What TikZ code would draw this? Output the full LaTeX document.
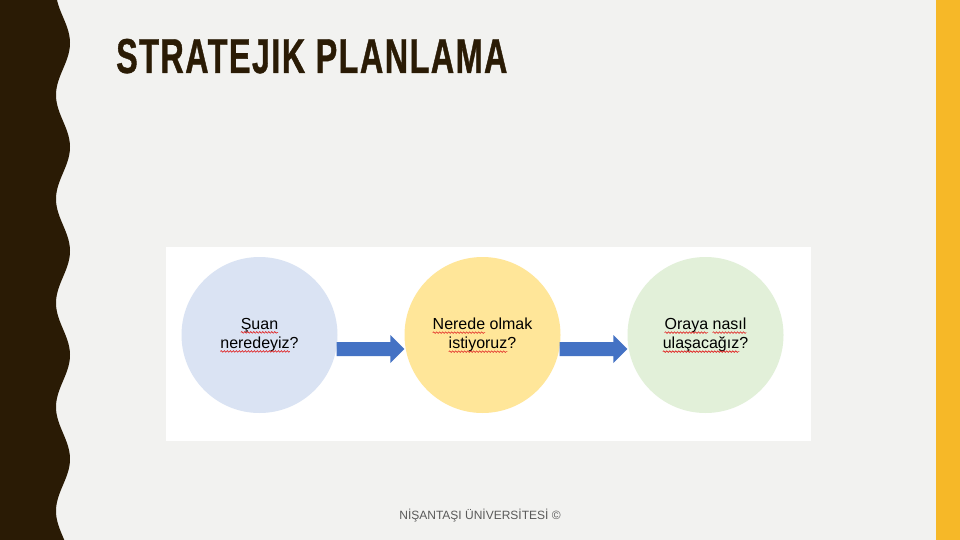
\documentclass[tikz,border=0pt]{standalone}
\usepackage{fontspec}
\setmainfont{Liberation Sans}
\newfontfamily\titlefont[FakeStretch=0.66, FakeBold=0.8, LetterSpace=3]{Liberation Sans}
\usetikzlibrary{calc, decorations.pathmorphing}
\definecolor{cpaper}{HTML}{F2F2F0}
\definecolor{cbrown}{HTML}{2A1B05}
\definecolor{cgold}{HTML}{F6B828}
\definecolor{cblue}{HTML}{DAE3F3}
\definecolor{cyellow}{HTML}{FFE699}
\definecolor{cgreen}{HTML}{E2F0D9}
\definecolor{carrow}{HTML}{4472C4}
\definecolor{cgrey}{HTML}{595959}
\definecolor{cspell}{HTML}{E02020}
\newcommand{\spell}[1]{\tikz[baseline=(w.base)]{\node[word] (w) {#1};
  \draw[squiggle, overlay] ([yshift=-3pt]w.base west) -- ([yshift=-3pt]w.base east);}}
\newcommand{\flowarrow}[2]{%
  \fill[flow] ($(#1.east)+(-1,7)$) -- ($(#2.west)+(-14,7)$) -- ($(#2.west)+(-14,0)$)
    -- ($(#2.west)+(0,14)$) -- ($(#2.west)+(-14,28)$) -- ($(#2.west)+(-14,21)$)
    -- ($(#1.east)+(-1,21)$) -- cycle;}
\tikzset{
  every picture/.style={x=1pt, y=-1pt},
  stage/.style={circle, fill=#1, minimum size=156pt, inner sep=0pt, align=center, font=\fontsize{16}{19}\selectfont},
  word/.style={rectangle, draw=none, fill=none, inner sep=0pt, outer sep=0pt, minimum size=0pt, align=left},
  flow/.style={fill=carrow},
  squiggle/.style={draw=cspell, line width=0.6pt, decorate, decoration={snake, amplitude=0.8pt, segment length=3pt}},
  title/.style={font=\titlefont\bfseries\fontsize{49}{49}\selectfont, text=cbrown, anchor=base west, inner sep=0pt},
  note/.style={font=\fontsize{12}{14}\selectfont, text=cgrey},
}
\begin{document}
\begin{tikzpicture}
  \useasboundingbox (0,0) rectangle (960,540);
  \fill[cpaper] (0,0) rectangle (960,540);
  % wavy band on the left, gold bar on the right
  \fill[cbrown] (0,0) -- plot[domain=0:540, samples=240] ({63+7*cos((\x-43)/104*360)}, \x) -- (0,540) -- cycle;
  \fill[cgold] (936,0) rectangle (960,540);
  \node[title] (head) at (116,73) {STRATEJIK PLANLAMA};
  \fill[white] (166,247) rectangle (811,441);
  \node[stage=cblue] (now) at (259.5,335) {\spell{Şuan}\\\spell{neredeyiz}?};
  \node[stage=cyellow] (goal) at (482.5,335) {\spell{Nerede} olmak\\\spell{istiyoruz}?};
  \node[stage=cgreen] (way) at (705.5,335) {\spell{Oraya} \spell{nasıl}\\\spell{ulaşacağız}?};
  \flowarrow{now}{goal}
  \flowarrow{goal}{way}
  \node[note] (foot) at (480,516) {NİŞANTAŞI ÜNİVERSİTESİ ©};
\end{tikzpicture}
\end{document}
